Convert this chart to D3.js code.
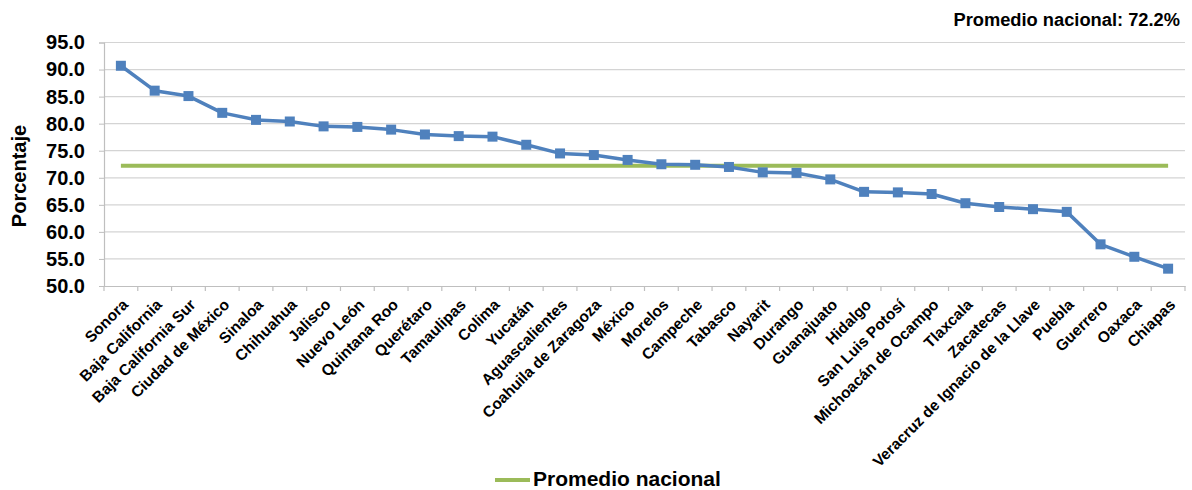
<!DOCTYPE html>
<html><head><meta charset="utf-8">
<script src="https://cdn.jsdelivr.net/npm/d3@7"></script>
<style>body{margin:0;background:#fff}svg{display:block}text{font-family:"Liberation Sans",Arial,sans-serif;font-weight:bold;fill:#000}</style>
</head><body><svg id="c" width="1192" height="490"></svg>
<script>
const categories = ["Sonora","Baja California","Baja California Sur","Ciudad de México","Sinaloa","Chihuahua","Jalisco","Nuevo León","Quintana Roo","Querétaro","Tamaulipas","Colima","Yucatán","Aguascalientes","Coahuila de Zaragoza","México","Morelos","Campeche","Tabasco","Nayarit","Durango","Guanajuato","Hidalgo","San Luis Potosí","Michoacán de Ocampo","Tlaxcala","Zacatecas","Veracruz de Ignacio de la Llave","Puebla","Guerrero","Oaxaca","Chiapas"];
const values = [90.7,86.1,85.1,82.0,80.7,80.4,79.5,79.4,78.9,78.0,77.7,77.6,76.1,74.5,74.2,73.3,72.5,72.4,72.0,71.0,70.9,69.7,67.4,67.3,67.0,65.3,64.6,64.2,63.7,57.7,55.4,53.2];
const nationalAverage = 72.2;
const yTicks = [50,55,60,65,70,75,80,85,90,95];
const titleText = "Promedio nacional: 72.2%";
const legendLabel = "Promedio nacional";
const yTitle = "Porcentaje";

const svg = d3.select("#c");
const L = 104, R = 1185, T = 42.5, B = 286;
const x = d3.scaleBand().domain(categories).range([L, R]);
const y = d3.scaleLinear().domain([50, 95]).range([B, T]);
const cx = d => x(d) + x.bandwidth()/2;

// gridlines
svg.append("g").selectAll("line").data(yTicks.filter(v=>v>50)).join("line")
  .attr("x1", L).attr("x2", R).attr("y1", d=>y(d)).attr("y2", d=>y(d))
  .attr("stroke", "#d4d4d4").attr("stroke-width", 1.2);

// y axis
const ya = svg.append("g").attr("transform", `translate(${L},0)`)
  .call(d3.axisLeft(y).tickValues(yTicks).tickSize(5).tickPadding(14).tickFormat(d3.format(".1f")));
ya.select(".domain").attr("stroke", "#bfbfbf").attr("stroke-width", 1.2);
ya.selectAll(".tick line").attr("stroke", "#bfbfbf");
ya.selectAll(".tick text").attr("font-size", 20).attr("font-family", '"Liberation Sans",Arial,sans-serif').attr("font-weight","bold").attr("fill","#000");

// x axis
const xa = svg.append("g").attr("transform", `translate(0,${B})`)
  .call(d3.axisBottom(x).tickSize(0).tickFormat(""));
xa.select(".domain").attr("stroke", "#bfbfbf").attr("stroke-width", 1.2);
const bounds = categories.map(c => x(c)).concat([R]);
xa.append("g").selectAll("line").data(bounds).join("line")
  .attr("x1", d=>d).attr("x2", d=>d).attr("y1", 0).attr("y2", 5)
  .attr("stroke", "#bfbfbf").attr("stroke-width", 1.2);
svg.append("g").selectAll("text").data(categories).join("text")
  .attr("transform", d => `translate(${cx(d)+0.5},${B+12}) rotate(-45)`)
  .attr("text-anchor", "end").attr("dy", "0.7em").attr("font-size", 15.5).text(d=>d);

// national average line
svg.append("line")
  .attr("x1", cx(categories[0])).attr("x2", cx(categories[categories.length-1]))
  .attr("y1", y(nationalAverage)).attr("y2", y(nationalAverage))
  .attr("stroke", "#9BBB59").attr("stroke-width", 4);

// data line
const line = d3.line().x((d,i)=>cx(categories[i])).y(d=>y(d));
svg.append("path").datum(values).attr("d", line)
  .attr("fill","none").attr("stroke","#4F81BD").attr("stroke-width",3.5).attr("stroke-linejoin","round");
svg.append("g").selectAll("rect").data(values).join("rect")
  .attr("x",(d,i)=>cx(categories[i])-5).attr("y",d=>y(d)-5)
  .attr("width",10).attr("height",10).attr("fill","#4F81BD");

// y title
svg.append("text").attr("transform","translate(26,176) rotate(-90)")
  .attr("text-anchor","middle").attr("font-size",20).text(yTitle);

// top right text
svg.append("text").attr("x",1180).attr("y",26).attr("text-anchor","end").attr("font-size",18.3).text(titleText);

// legend
svg.append("line").attr("x1",495).attr("x2",530).attr("y1",480).attr("y2",480)
  .attr("stroke","#9BBB59").attr("stroke-width",4);
svg.append("text").attr("x",533).attr("y",485.5).attr("font-size",21).text(legendLabel);
</script></body></html>
